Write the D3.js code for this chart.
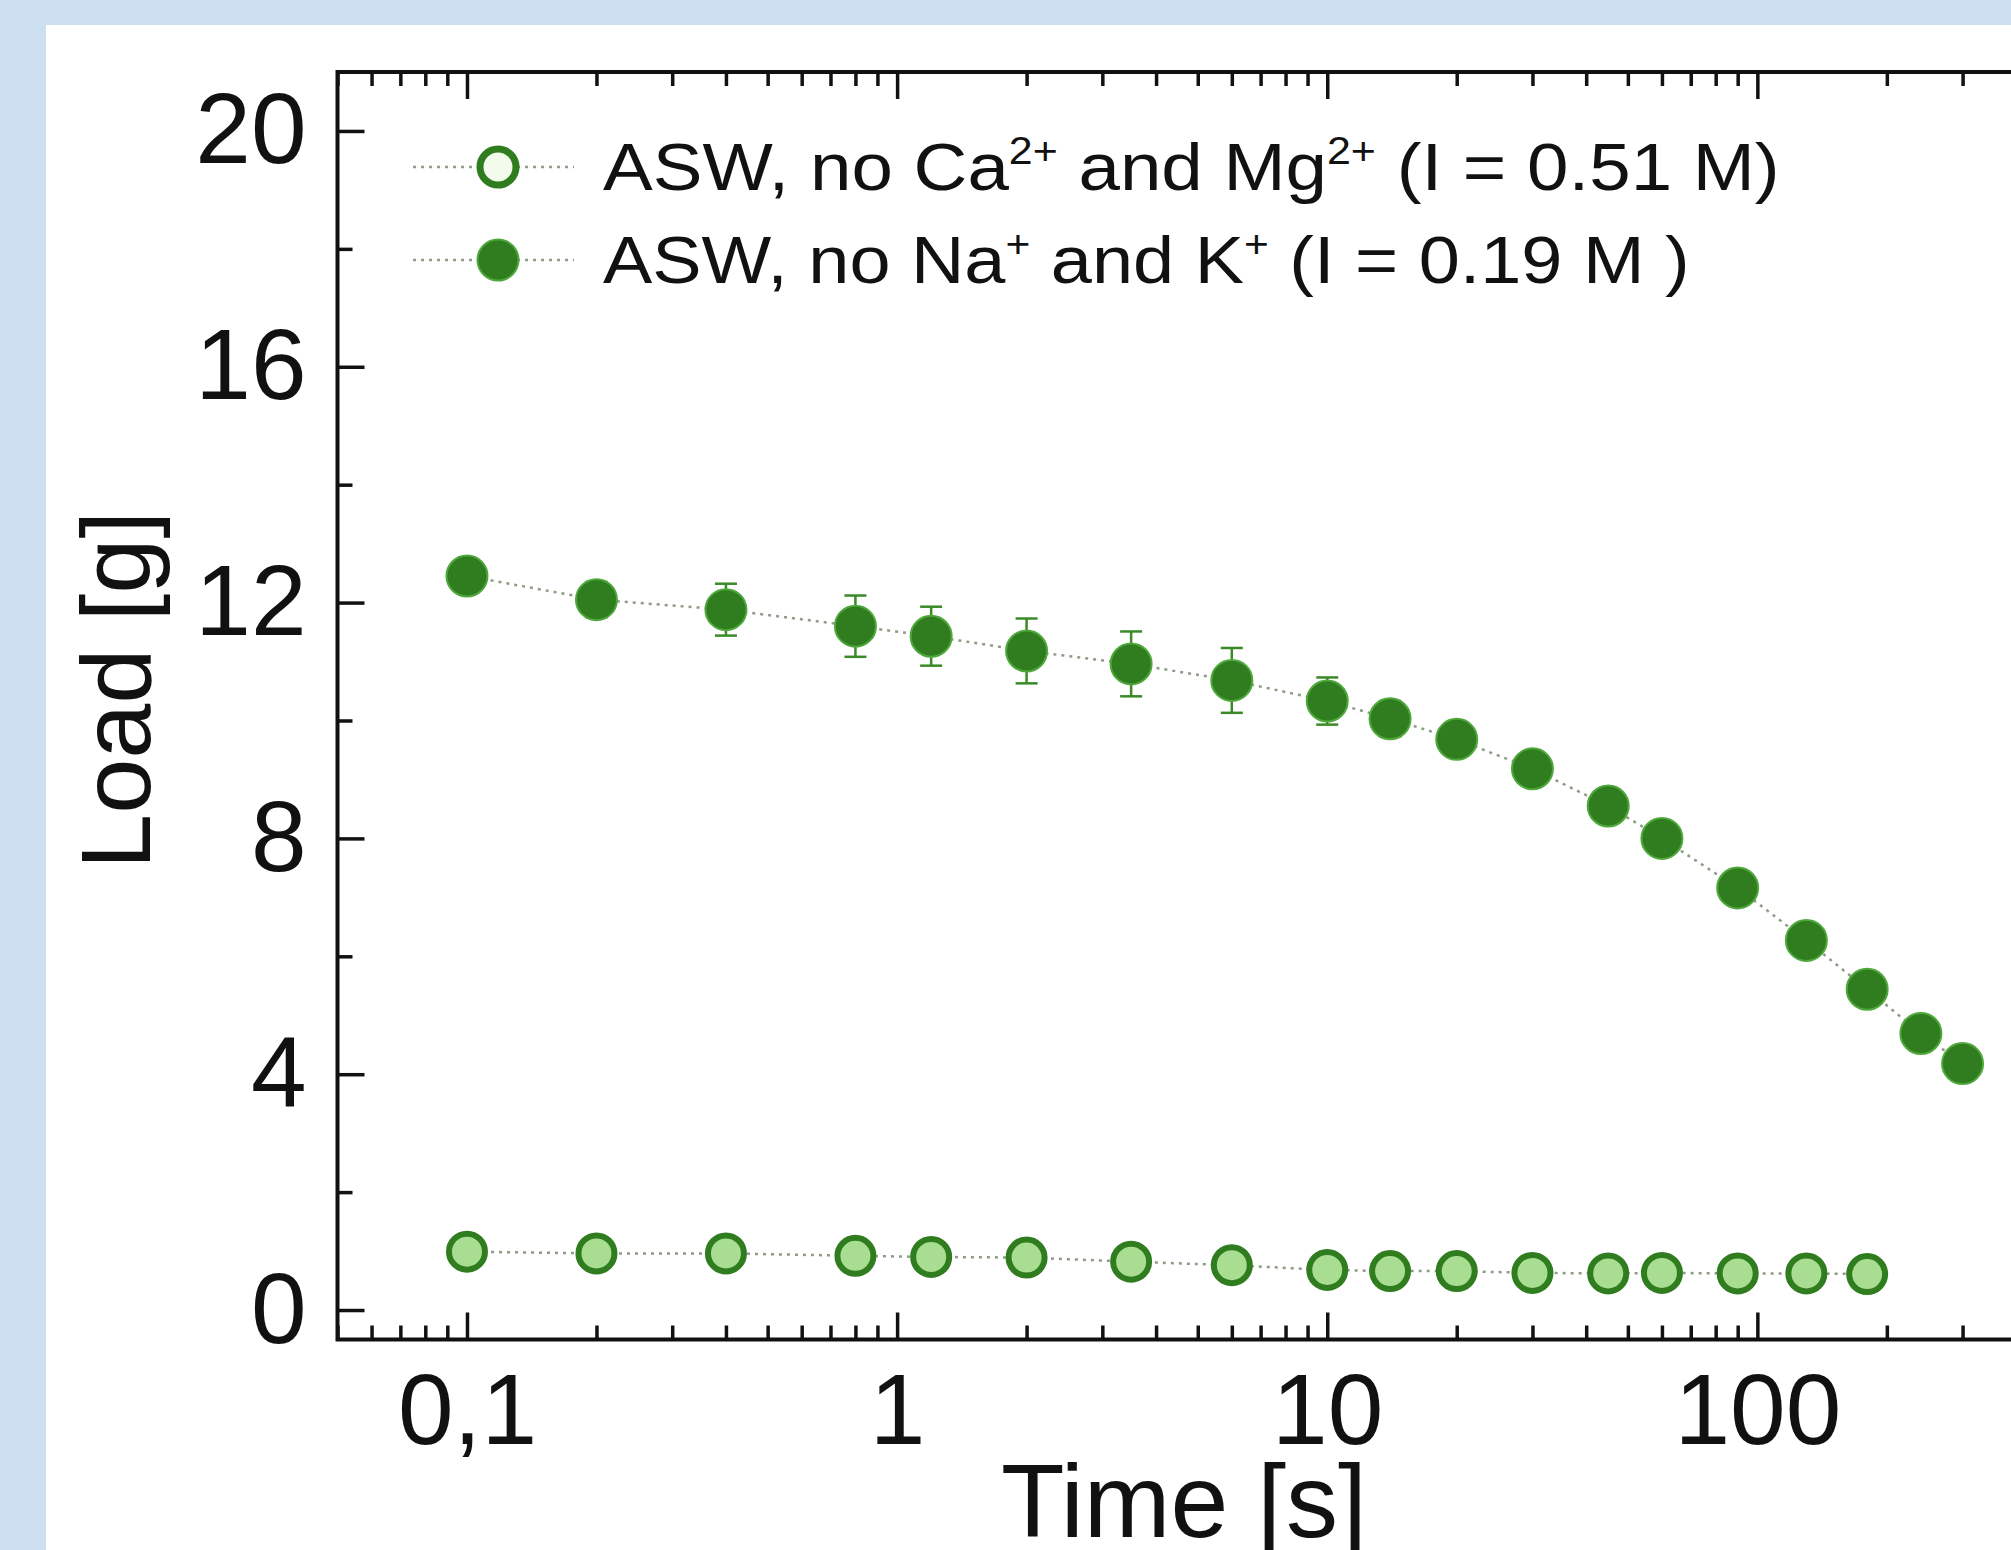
<!DOCTYPE html>
<html><head><meta charset="utf-8">
<script src="https://cdn.jsdelivr.net/npm/d3@7"></script>
<style>
html,body{margin:0;padding:0;background:#cde0f1;overflow:hidden;}
svg{display:block;}
</style>
</head><body>
<svg id="chart" width="2011" height="1550"></svg>
<script>
// ---- data ----
const timesNoNaK = [0.1,0.2,0.4,0.8,1.2,2,3.5,6,10,14,20,30,45,60,90,130,180,240,300];
const loadNoNaK  = [12.45,12.05,11.88,11.6,11.43,11.18,10.96,10.68,10.33,10.03,9.68,9.18,8.55,8.0,7.16,6.27,5.44,4.69,4.18];
const errNoNaK   = [0.15,0.3,0.44,0.52,0.5,0.55,0.55,0.55,0.4,0.3,0.25,0.2,0.2,0.2,0.2,0.2,0.2,0.2,0.2];
const timesNoCaMg = [0.1,0.2,0.4,0.8,1.2,2,3.5,6,10,14,20,30,45,60,90,130,180];
const loadNoCaMg  = [0.99,0.96,0.96,0.92,0.90,0.89,0.82,0.76,0.68,0.66,0.66,0.63,0.62,0.63,0.62,0.62,0.61];
const xMajorTicks = [0.1,1,10,100];
const xTickLabels = ["0,1","1","10","100"];
const yMajorTicks = [0,4,8,12,16,20];
const yMinorTicks = [2,6,10,14,18];
const xDomain = [0.05,500];
const yDomain = [-0.5,21];
const legendRows = [
  {parts:[["ASW, no Ca",false],["2+",true],[" and Mg",false],["2+",true],[" (I = 0.51 M)",false]], open:true},
  {parts:[["ASW, no Na",false],["+",true],[" and K",false],["+",true],[" (I = 0.19 M )",false]], open:false}
];

// ---- layout ----
const svg = d3.select("#chart");
const L = 337.5, R = 2058, T = 72, B = 1339.5;
const FONT = "'Liberation Sans', Arial, Helvetica, sans-serif";
const dark = "#2f7d1f";

svg.append("rect").attr("x",46).attr("y",25).attr("width",2011-46).attr("height",1550-25).attr("fill","#ffffff");

const x = d3.scaleLog().domain(xDomain).range([L,R]);
const y = d3.scaleLinear().domain(yDomain).range([B,T]);

// minor x ticks
const xMinor = [];
for (let e=-2; e<=2; e++) for (let m=2; m<=9; m++) { const v = m*Math.pow(10,e); if (v>=xDomain[0] && v<=xDomain[1]) xMinor.push(v); }

function styleAxis(g){ g.select(".domain").remove(); g.selectAll(".tick line").attr("stroke","#111").attr("stroke-width",3.5); }

// bottom axis
svg.append("g").attr("transform",`translate(0,${B})`)
  .call(d3.axisBottom(x).tickValues(xMinor).tickSize(-14).tickFormat(""))
  .call(styleAxis);
const xb = svg.append("g").attr("transform",`translate(0,${B})`)
  .call(d3.axisBottom(x).tickValues(xMajorTicks).tickSize(-27).tickPadding(33)
        .tickFormat((d,i)=>xTickLabels[i]))
  .call(styleAxis);
xb.selectAll("text").attr("font-family",FONT).attr("font-size",100).attr("fill","#111");

// top axis (ticks only)
svg.append("g").attr("transform",`translate(0,${T})`)
  .call(d3.axisTop(x).tickValues(xMinor).tickSize(-14).tickFormat("")).call(styleAxis);
svg.append("g").attr("transform",`translate(0,${T})`)
  .call(d3.axisTop(x).tickValues(xMajorTicks).tickSize(-27).tickFormat("")).call(styleAxis);

// left axis
svg.append("g").attr("transform",`translate(${L},0)`)
  .call(d3.axisLeft(y).tickValues(yMinorTicks).tickSize(-15).tickFormat("")).call(styleAxis);
const yl = svg.append("g").attr("transform",`translate(${L},0)`)
  .call(d3.axisLeft(y).tickValues(yMajorTicks).tickSize(-27).tickPadding(31).tickFormat(d3.format("d")))
  .call(styleAxis);
yl.selectAll("text").attr("font-family",FONT).attr("font-size",100).attr("fill","#111");

// frame
svg.append("rect").attr("x",L).attr("y",T).attr("width",R-L).attr("height",B-T)
  .attr("fill","none").attr("stroke","#111").attr("stroke-width",4);

// axis titles
svg.append("text").attr("x",1184).attr("y",1537).attr("text-anchor","middle")
  .attr("font-family",FONT).attr("font-size",104).attr("fill","#111").text("Time [s]");
svg.append("text").attr("transform","translate(150,690) rotate(-90)").attr("text-anchor","middle")
  .attr("font-family",FONT).attr("font-size",99).attr("fill","#111").text("Load [g]");

// series
const lineGen = d3.line().x(d=>x(d[0])).y(d=>y(d[1]));
const filledData = timesNoNaK.map((t,i)=>[t,loadNoNaK[i],errNoNaK[i]]);
const openData = timesNoCaMg.map((t,i)=>[t,loadNoCaMg[i]]);

const dotStyle = p => p.attr("fill","none").attr("stroke","#8e9c88").attr("stroke-width",2.5).attr("stroke-dasharray","3,5");

svg.append("path").datum(openData).attr("d",lineGen).call(dotStyle);
svg.append("path").datum(filledData).attr("d",lineGen).call(dotStyle);

// error bars
const eb = svg.append("g").attr("stroke","#3a8a28").attr("stroke-width",2.5);
filledData.forEach(d=>{
  const cx = x(d[0]), y0 = y(d[1]-d[2]), y1 = y(d[1]+d[2]);
  eb.append("line").attr("x1",cx).attr("x2",cx).attr("y1",y0).attr("y2",y1);
  eb.append("line").attr("x1",cx-11).attr("x2",cx+11).attr("y1",y0).attr("y2",y0);
  eb.append("line").attr("x1",cx-11).attr("x2",cx+11).attr("y1",y1).attr("y2",y1);
});

svg.append("g").selectAll("circle").data(openData).join("circle")
  .attr("cx",d=>x(d[0])).attr("cy",d=>y(d[1])).attr("r",18)
  .attr("fill","#a9de92").attr("stroke",dark).attr("stroke-width",6);
svg.append("g").selectAll("circle").data(filledData).join("circle")
  .attr("cx",d=>x(d[0])).attr("cy",d=>y(d[1])).attr("r",20.5)
  .attr("fill",dark).attr("stroke","#4fa83c").attr("stroke-width",2);

// legend
const legendTargets = [1177, 1087];
legendRows.forEach((row,i)=>{
  const cy = 167 + i*93;
  svg.append("line").attr("x1",413).attr("x2",574).attr("y1",cy).attr("y2",cy).call(dotStyle);
  if (row.open) {
    svg.append("circle").attr("cx",498).attr("cy",cy).attr("r",18).attr("fill","#f2fbec").attr("stroke",dark).attr("stroke-width",7);
  } else {
    svg.append("circle").attr("cx",498).attr("cy",cy).attr("r",20.5).attr("fill",dark).attr("stroke","#4fa83c").attr("stroke-width",2);
  }
  const g = svg.append("g").attr("transform",`translate(603,${cy+23})`);
  const t = g.append("text").attr("font-family",FONT).attr("font-size",66).attr("fill","#111");
  row.parts.forEach(([s,sup])=>{
    const ts = t.append("tspan").text(s);
    if (sup) ts.attr("font-size",38).attr("dy",-26);
    else ts.attr("dy", 0);
  });
  // restore baseline after superscripts
  t.selectAll("tspan").each(function(d,j){
    const p = row.parts[j];
    const prev = j>0 ? row.parts[j-1] : null;
    if (!p[1] && prev && prev[1]) d3.select(this).attr("dy",26);
  });
  const w = t.node().getComputedTextLength();
  g.attr("transform",`translate(603,${cy+23}) scale(${legendTargets[i]/w},1)`);
});
</script>
</body></html>
